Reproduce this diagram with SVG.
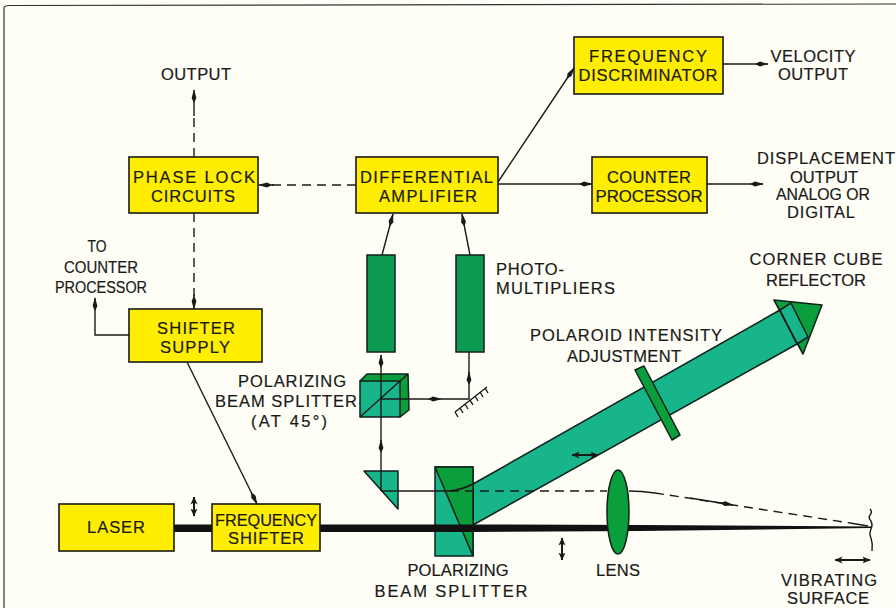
<svg xmlns="http://www.w3.org/2000/svg" width="896" height="608" viewBox="0 0 896 608">
<defs>
<style>
text{font-family:"Liberation Sans",Arial,sans-serif;font-size:16.5px;fill:#1a1a18;text-anchor:middle;stroke:#1a1a18;stroke-width:.2}
.y{fill:#ffee00;stroke:#1a1a10;stroke-width:1.6}
.pm{fill:#0a9a50;stroke:#10201a;stroke-width:1.5}
.teal{fill:#18b48a;stroke:#10201a;stroke-width:1.5;stroke-linejoin:round}
.dark{fill:#0a9e3c;stroke:#10201a;stroke-width:1.5;stroke-linejoin:round}
.l{fill:none;stroke:#1a1a18;stroke-width:1.4}
.d{stroke-dasharray:9 6}
.t{stroke-width:2}
</style>
<marker id="a" viewBox="0 0 14 6" refX="13" refY="3" markerWidth="14" markerHeight="6" markerUnits="userSpaceOnUse" orient="auto-start-reverse"><path d="M0 3L5 .6L14 3L5 5.4Z" fill="#1a1a18"/></marker>
<marker id="b" viewBox="0 0 8 8" refX="7.500" refY="4" markerWidth="8" markerHeight="8" markerUnits="userSpaceOnUse" orient="auto-start-reverse"><path d="M0 .5L8 4L0 7.500L2 4Z" fill="#1a1a18"/></marker>
</defs>
<rect width="896" height="608" fill="#fefdf6"/>
<path d="M4 8Q4 6 8 5.500L896 4M4 8V608" fill="none" stroke="#333" stroke-width="1.200"/>
<g id="beams">
<polygon class="teal" points="473,484 780,310 797,344 473,525"/>
<path class="l" d="M398 491H435"/>
</g>
<g id="beam-splitter">
<rect class="teal" x="435" y="467" width="38" height="89"/>
<polygon class="dark" points="435,467 473,467 473,556"/>
<path class="l" d="M435 491H447C457 491 465 488 473 484"/>
</g>
<g id="laser-beam"><rect x="174" y="524.500" width="38" height="7.500" fill="#111"/><polygon points="320,524.500 470,524.500 640,525 872,526.500 872,528 640,531 470,532 320,532" fill="#111"/></g>
<g id="node-frequency-discriminator"><rect class="y" x="574" y="37" width="149" height="57"/><text x="648" y="62" textLength="118" lengthAdjust="spacing">FREQUENCY</text><text x="648" y="81" textLength="139" lengthAdjust="spacing">DISCRIMINATOR</text></g>
<g id="node-phase-lock"><rect class="y" x="129" y="157" width="129" height="56"/><text x="194" y="183" textLength="122" lengthAdjust="spacing">PHASE LOCK</text><text x="193" y="202" textLength="84" lengthAdjust="spacing">CIRCUITS</text></g>
<g id="node-differential"><rect class="y" x="356" y="157" width="142" height="56"/><text x="426.500" y="183" textLength="133" lengthAdjust="spacing">DIFFERENTIAL</text><text x="428" y="202" textLength="98" lengthAdjust="spacing">AMPLIFIER</text></g>
<g id="node-counter"><rect class="y" x="592" y="157" width="115" height="56"/><text x="649" y="183" textLength="84" lengthAdjust="spacing">COUNTER</text><text x="649" y="202" textLength="107" lengthAdjust="spacingAndGlyphs">PROCESSOR</text></g>
<g id="node-shifter-supply"><rect class="y" x="129" y="309" width="133" height="53"/><text x="196" y="334" textLength="78" lengthAdjust="spacing">SHIFTER</text><text x="195" y="353" textLength="70" lengthAdjust="spacing">SUPPLY</text></g>
<g id="node-laser"><rect class="y" x="59" y="504" width="115" height="47"/><text x="116" y="533" textLength="58" lengthAdjust="spacing">LASER</text></g>
<g id="node-frequency-shifter"><rect class="y" x="212" y="504" width="108" height="47"/><text x="266" y="526" textLength="102" lengthAdjust="spacingAndGlyphs">FREQUENCY</text><text x="266" y="544" textLength="76" lengthAdjust="spacing">SHIFTER</text></g>
<g id="node-pm1"><rect class="pm" x="367" y="255" width="28" height="97"/></g>
<g id="node-pm2"><rect class="pm" x="456" y="255" width="28" height="97"/></g>
<g id="node-cube">
<polygon class="dark" points="360,381 367,374 408,374 409,410 400,417"/>
<rect class="teal" x="360" y="381" width="40" height="36"/>
<path class="l" d="M360 417L400 381L408 374"/>
</g>
<g id="node-prism"><polygon class="teal" points="364,471 398,471 398,509"/></g>
<g id="node-mirror"><path class="l" d="M455 412L487 387M455 412l3 5M460 408l3 5M465 404l3 5M470 400l3 5M475 396l3 5M480 392l3 5M485 388l3 5"/></g>
<g id="node-lens"><ellipse class="dark" cx="618" cy="512" rx="11" ry="42"/></g>
<g id="node-polaroid"><polygon class="dark" points="635,370 644,366 680,435 672,440"/></g>
<g id="node-corner-cube">
<polygon class="dark" points="774,300 822,305 803,354"/>
<polygon class="teal" points="780,310 791,303 808,337 797,344"/>
<path class="l" d="M774 300L803 354"/>
</g>
<g id="node-surface"><path class="l" d="M870 509q3 3 0 6q-2 3 1 6q2 4 0 8q-2 5 0 9q2 6 1 13"/></g>
<g id="connectors">
<path class="l d" d="M194 157V115"/>
<path class="l" d="M194 116V90" marker-end="url(#a)"/>
<path class="l d" d="M356 185H272"/>
<path class="l" d="M274 185H259" marker-end="url(#a)"/>
<path class="l d" d="M194 213V296"/>
<path class="l" d="M194 294V309" marker-end="url(#a)"/>
<path class="l" d="M498 182L574 68" marker-end="url(#a)"/>
<path class="l" d="M723 64H768" marker-end="url(#a)"/>
<path class="l" d="M498 184H592" marker-end="url(#a)"/>
<path class="l" d="M707 184H763" marker-end="url(#a)"/>
<path class="l" d="M382 255L393 214" marker-end="url(#a)"/>
<path class="l" d="M470 255L462 214" marker-end="url(#a)"/>
<path class="l" d="M129 335H95V298" marker-end="url(#a)"/>
<path class="l" d="M187 362L257 504" marker-end="url(#a)"/>
<path class="l" d="M381 399V355" marker-end="url(#a)"/>
<path class="l" d="M381 491V440" marker-end="url(#a)"/>
<path class="l" d="M381 441V399"/>
<path class="l" d="M381 491H398"/>
<path class="l" d="M381 399H441" marker-end="url(#a)"/>
<path class="l" d="M441 399H469V372" marker-end="url(#a)"/>
<path class="l" d="M469 374V352"/>
<path class="l d" d="M450 491H607"/>
<path class="l" d="M629 491C640 491 648 492 655 493"/>
<path class="l d" d="M655 493L850 523" stroke-width="1.500"/>
<path class="l" d="M690 498L733 505" marker-end="url(#a)"/>
<path class="l" d="M850 523L868 526"/>
<path class="l t" d="M194 497V516" marker-start="url(#b)" marker-end="url(#b)"/>
<path class="l t" d="M562 538V560" marker-start="url(#b)" marker-end="url(#b)"/>
<path class="l t" d="M572 455H598" marker-start="url(#b)" marker-end="url(#b)"/>
<path class="l t" d="M835 560H870" marker-start="url(#b)" marker-end="url(#b)"/>
</g>
<g id="labels">
<text x="196" y="80" textLength="70" lengthAdjust="spacing">OUTPUT</text>
<text x="813" y="62" textLength="85" lengthAdjust="spacing">VELOCITY</text><text x="813" y="80" textLength="70" lengthAdjust="spacing">OUTPUT</text>
<text x="826" y="164" textLength="138" lengthAdjust="spacing">DISPLACEMENT</text><text x="824" y="183" textLength="68" lengthAdjust="spacing">OUTPUT</text><text x="823" y="200" textLength="94" lengthAdjust="spacingAndGlyphs">ANALOG OR</text><text x="821" y="218" textLength="68" lengthAdjust="spacing">DIGITAL</text>
<text x="816" y="265" textLength="133" lengthAdjust="spacing">CORNER CUBE</text><text x="816" y="286" textLength="100" lengthAdjust="spacing">REFLECTOR</text>
<text x="496" y="275" style="text-anchor:start" textLength="68" lengthAdjust="spacing">PHOTO-</text><text x="496" y="294" style="text-anchor:start" textLength="119" lengthAdjust="spacing">MULTIPLIERS</text>
<text x="97" y="252" textLength="19" lengthAdjust="spacingAndGlyphs">TO</text><text x="101" y="273" textLength="74" lengthAdjust="spacingAndGlyphs">COUNTER</text><text x="101" y="293" textLength="92" lengthAdjust="spacingAndGlyphs">PROCESSOR</text>
<text x="626" y="341" textLength="192" lengthAdjust="spacing">POLAROID INTENSITY</text><text x="624" y="362" textLength="114" lengthAdjust="spacing">ADJUSTMENT</text>
<text x="292" y="387" textLength="108" lengthAdjust="spacing">POLARIZING</text><text x="286" y="407" textLength="142" lengthAdjust="spacing">BEAM SPLITTER</text><text x="289" y="427" textLength="76" lengthAdjust="spacing">(AT 45°)</text>
<text x="458" y="576" textLength="101" lengthAdjust="spacing">POLARIZING</text><text x="451" y="597" textLength="153" lengthAdjust="spacing">BEAM SPLITTER</text>
<text x="618" y="576" textLength="44" lengthAdjust="spacing">LENS</text>
<text x="829" y="586" textLength="96" lengthAdjust="spacing">VIBRATING</text><text x="828" y="604" textLength="82" lengthAdjust="spacing">SURFACE</text>
</g>
</svg>
